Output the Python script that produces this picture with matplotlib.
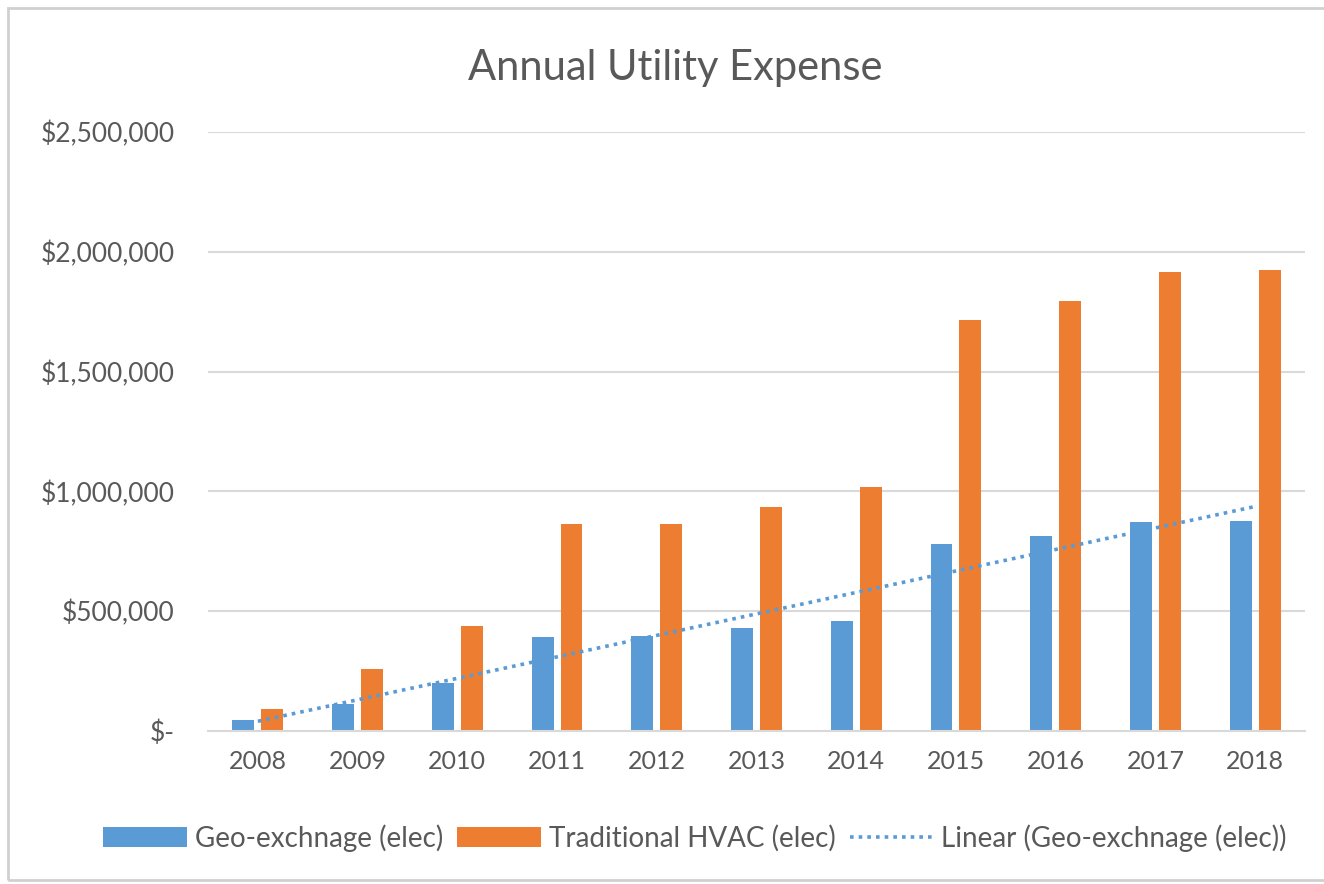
import matplotlib
matplotlib.use('Agg')
import matplotlib.pyplot as plt
import numpy as np
from matplotlib.patches import Rectangle
from matplotlib.ticker import FuncFormatter

years = ['2008', '2009', '2010', '2011', '2012', '2013', '2014', '2015', '2016', '2017', '2018']
geo = [46000, 113000, 200000, 392000, 396000, 430000, 459000, 780000, 813000, 871000, 876000]
hvac = [92000, 258000, 438000, 863000, 863000, 934000, 1017000, 1714000, 1793000, 1914000, 1922000]

plt.rcParams['font.family'] = ['Lato', 'DejaVu Sans']
txt = '#595959'
blue = '#5B9BD5'
orange = '#ED7D31'
grid = '#D9D9D9'

fig = plt.figure(figsize=(13.24, 8.84), dpi=100)
ax = fig.add_axes([208/1324, 1 - 731/884, (1305-208)/1324, (731-132)/884])

x = np.arange(len(years))
w = 0.22
b1 = ax.bar(x - 0.145, geo, w, color=blue, label='Geo-exchnage (elec)', zorder=2)
b2 = ax.bar(x + 0.145, hvac, w, color=orange, label='Traditional HVAC (elec)', zorder=2)

# linear trendline of the geo-exchange series
k, b = np.polyfit(x, geo, 1)
tl, = ax.plot(x, k * x + b, linestyle=(0, (1, 1.4)), color=blue, linewidth=2.6,
              label='Linear (Geo-exchnage (elec))', zorder=3)

ax.set_xlim(-0.5, 10.5)
ax.set_ylim(0, 2500000)
ax.set_yticks(np.arange(0, 2500001, 500000))
ax.yaxis.set_major_formatter(FuncFormatter(lambda v, p: '$-' if v == 0 else '${:,.0f}'.format(v)))
ax.set_xticks(x)
ax.set_xticklabels(years)
ax.tick_params(axis='both', length=0, labelsize=18, colors=txt)
ax.tick_params(axis='y', pad=24, labelsize=19)
ax.tick_params(axis='x', pad=14)
ax.grid(axis='y', color=grid, linewidth=1.5, zorder=0)
for s in ['top', 'right', 'left']:
    ax.spines[s].set_visible(False)
ax.spines['bottom'].set_color(grid)
ax.spines['bottom'].set_linewidth(1.5)

fig.text(0.51, 1 - 68/884, 'Annual Utility Expense', ha='center', va='center',
         fontsize=30, color=txt)

fig.legend(handles=[b1, b2, tl], loc='center', bbox_to_anchor=(0.525, 1 - 838/884), ncol=3,
           frameon=False, fontsize=20, labelcolor=txt, handlelength=3.0, handleheight=0.75,
           handletextpad=0.3, columnspacing=0.5)

fig.patches.append(Rectangle((8/1324, 0.004), 1.1, 1 - 8/884 - 0.004, transform=fig.transFigure,
                             fill=False, edgecolor='#D0D0D0', linewidth=2, zorder=0))

fig.savefig('out.png', dpi=100)
